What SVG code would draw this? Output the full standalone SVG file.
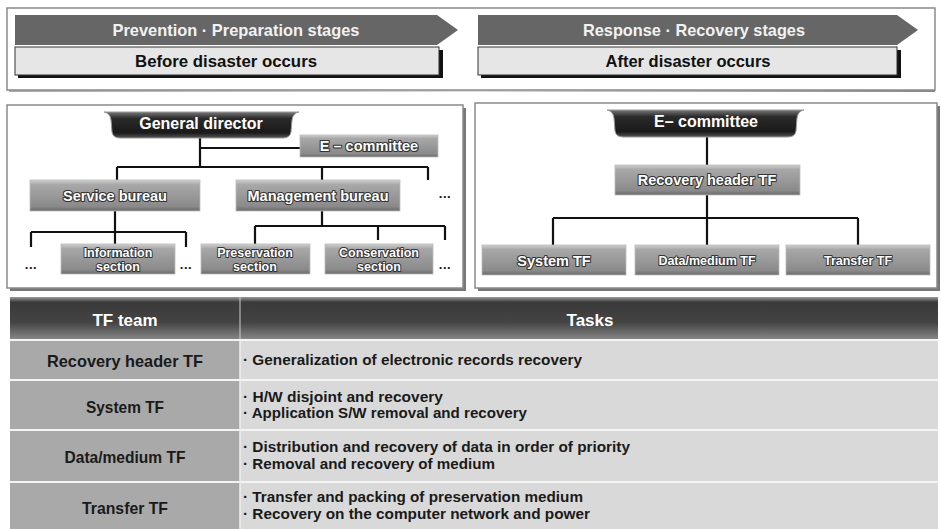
<svg xmlns="http://www.w3.org/2000/svg" width="941" height="529" viewBox="0 0 941 529">
<defs>
<linearGradient id="gBox" x1="0" y1="0" x2="0" y2="1">
<stop offset="0" stop-color="#d0d0d0"/><stop offset="0.15" stop-color="#a8a8a8"/><stop offset="0.85" stop-color="#8a8a8a"/><stop offset="1" stop-color="#6a6a6a"/>
</linearGradient>
<linearGradient id="gDark" x1="0" y1="0" x2="0" y2="1">
<stop offset="0" stop-color="#777"/><stop offset="0.25" stop-color="#2a2a2a"/><stop offset="0.8" stop-color="#1a1a1a"/><stop offset="1" stop-color="#555"/>
</linearGradient>
<linearGradient id="gHead" x1="0" y1="0" x2="0" y2="1">
<stop offset="0" stop-color="#9a9a9a"/><stop offset="0.12" stop-color="#3a3a3a"/><stop offset="0.6" stop-color="#444"/><stop offset="1" stop-color="#8a8a8a"/>
</linearGradient>
<linearGradient id="gShadow" x1="0" y1="0" x2="1" y2="0">
<stop offset="0" stop-color="#aaa"/><stop offset="0.5" stop-color="#ddd"/><stop offset="1" stop-color="#888"/>
</linearGradient>
</defs>
<style>
text{font-family:"Liberation Sans",Arial,sans-serif}
.panel{fill:#fff;stroke:#8a8a8a;stroke-width:1.5}
.banner{fill:#666}
.btxt{fill:#f2f2f2;font-size:17px;font-weight:bold;text-anchor:middle}
.sub{fill:#e6e6e6;stroke:#333;stroke-width:1}
.stxt{fill:#111;font-size:16px;font-weight:bold;text-anchor:middle}
.box{fill:url(#gBox);stroke:#bbb;stroke-width:0.8}
.dark{fill:url(#gDark);stroke:#999;stroke-width:1}
.ntxt{fill:#fff;font-size:14.5px;font-weight:bold;text-anchor:middle;stroke:#333;stroke-width:2.2;paint-order:stroke;stroke-linejoin:round}
.ntxt2{fill:#fff;font-size:12.5px;font-weight:bold;text-anchor:middle;stroke:#333;stroke-width:2;paint-order:stroke;stroke-linejoin:round}
.dtxt{fill:#fff;font-size:16px;font-weight:bold;text-anchor:middle}
.dots{fill:#111;font-size:13px;font-weight:bold;text-anchor:middle;letter-spacing:0.5px}
.conn{fill:none;stroke:#111;stroke-width:2.2}
.colL{fill:#a9a9a9}
.colR{fill:#d9d9d9}
.sep{stroke:#f4f4f4;stroke-width:2}
.htxt{fill:#fff;font-size:17px;font-weight:bold;text-anchor:middle}
.ltxt{fill:#1a1a1a;font-size:16.5px;font-weight:bold;text-anchor:middle}
.rtxt{fill:#1a1a1a;font-size:15.5px;font-weight:bold}
</style>

<g id="top-panel">
<rect x="9" y="88" width="926" height="4" fill="url(#gShadow)"/>
<rect class="panel" x="7" y="8" width="928" height="82"/>
</g>
<g id="stage-prevention">
<polygon class="banner" points="15,15 437,15 458,30 437,45 15,45"/>
<text class="btxt" x="236" y="36" textLength="247" lengthAdjust="spacingAndGlyphs">Prevention · Preparation stages</text>
</g>
<g id="before-disaster">
<rect x="18" y="50" width="425" height="28" fill="#111"/>
<rect class="sub" x="15" y="47" width="424" height="28"/>
<text class="stxt" x="226" y="67" textLength="182" lengthAdjust="spacingAndGlyphs">Before disaster occurs</text>
</g>
<g id="stage-response">
<polygon class="banner" points="478,15 897,15 918,30 897,45 478,45"/>
<text class="btxt" x="694" y="36" textLength="222" lengthAdjust="spacingAndGlyphs">Response · Recovery stages</text>
</g>
<g id="after-disaster">
<rect x="481" y="50" width="420" height="28" fill="#111"/>
<rect class="sub" x="478" y="47" width="419" height="28"/>
<text class="stxt" x="688" y="67" textLength="165" lengthAdjust="spacingAndGlyphs">After disaster occurs</text>
</g>

<g id="panel-before">
<rect x="10" y="108" width="456" height="183" fill="#777"/>
<rect class="panel" x="7" y="105" width="456" height="183"/>
</g>
<g id="panel-after">
<rect x="478" y="106" width="462" height="185" fill="#777"/>
<rect class="panel" x="475" y="103" width="462" height="185"/>
</g>

<g id="connectors">
<path class="conn" d="M200,138 V167 M200,148 H300 M117,167 H428 M117,167 V180 M322,167 V180 M428,167 V180"/>
<path class="conn" d="M115,211 V232 M31,232 H186 M31,232 V247 M115,232 V244 M186,232 V247"/>
<path class="conn" d="M322,211 V226 M255,226 H445 M255,226 V244 M378,226 V240 M445,226 V240"/>
<path class="conn" d="M707,137 V165 M707,195 V245 M553,218 H858 M553,218 V245 M858,218 V245"/>
</g>

<g id="general-director">
<path class="dark" d="M104,112 H299 Q293,113 292,120 L291,132 Q290,138 283,138 H120 Q113,138 112,132 L111,120 Q110,113 104,112 Z"/>
<text class="dtxt" x="201" y="129">General director</text>
</g>
<g id="e-committee-left">
<rect class="box" x="300" y="135" width="138" height="22"/>
<text class="ntxt" x="369" y="151">E – committee</text>
</g>
<g id="service-bureau">
<rect class="box" x="30" y="180" width="170" height="31"/>
<text class="ntxt" x="115" y="201">Service bureau</text>
</g>
<g id="management-bureau">
<rect class="box" x="236" y="180" width="164" height="31"/>
<text class="ntxt" x="318" y="201">Management bureau</text>
</g>
<text class="dots" x="445" y="198">...</text>
<g id="information-section">
<rect class="box" x="61" y="244" width="114" height="30"/>
<text class="ntxt2" x="118" y="257">Information</text>
<text class="ntxt2" x="118" y="271">section</text>
</g>
<text class="dots" x="31" y="269">...</text>
<text class="dots" x="186" y="269">...</text>
<g id="preservation-section">
<rect class="box" x="201" y="244" width="109" height="30"/>
<text class="ntxt2" x="255" y="257">Preservation</text>
<text class="ntxt2" x="255" y="271">section</text>
</g>
<g id="conservation-section">
<rect class="box" x="325" y="244" width="108" height="30"/>
<text class="ntxt2" x="379" y="257">Conservation</text>
<text class="ntxt2" x="379" y="271">section</text>
</g>
<text class="dots" x="445" y="269">...</text>

<g id="e-committee-right">
<path class="dark" d="M607,110 H804 Q798,111 797,118 L796,131 Q795,137 788,137 H623 Q616,137 615,131 L614,118 Q613,111 607,110 Z"/>
<text class="dtxt" x="706" y="127">E– committee</text>
</g>
<g id="recovery-header-tf">
<rect class="box" x="615" y="165" width="185" height="30"/>
<text class="ntxt" x="707" y="185">Recovery header TF</text>
</g>
<g id="system-tf">
<rect class="box" x="482" y="245" width="144" height="30"/>
<text class="ntxt" x="554" y="266">System TF</text>
</g>
<g id="data-medium-tf">
<rect class="box" x="635" y="245" width="144" height="30"/>
<text class="ntxt2" x="707" y="265">Data/medium TF</text>
</g>
<g id="transfer-tf">
<rect class="box" x="786" y="245" width="144" height="30"/>
<text class="ntxt2" x="858" y="265">Transfer TF</text>
</g>

<g id="table">
<rect x="10" y="297" width="928" height="43" fill="url(#gHead)"/>
<line x1="240" y1="297" x2="240" y2="340" stroke="#ccc" stroke-width="1"/>
<text class="htxt" x="125" y="326">TF team</text>
<text class="htxt" x="590" y="326">Tasks</text>
<rect class="colL" x="10" y="340" width="230" height="189"/>
<rect class="colR" x="240" y="340" width="698" height="189"/>
<line class="sep" x1="10" y1="340" x2="938" y2="340"/>
<line class="sep" x1="10" y1="380" x2="938" y2="380"/>
<line class="sep" x1="10" y1="430" x2="938" y2="430"/>
<line class="sep" x1="10" y1="482" x2="938" y2="482"/>
<line x1="240" y1="340" x2="240" y2="529" stroke="#eee" stroke-width="1.5"/>
<text class="ltxt" x="125" y="367" textLength="156" lengthAdjust="spacingAndGlyphs">Recovery header  TF</text>
<text class="ltxt" x="125" y="413" textLength="78" lengthAdjust="spacingAndGlyphs">System TF</text>
<text class="ltxt" x="125" y="463" textLength="121" lengthAdjust="spacingAndGlyphs">Data/medium TF</text>
<text class="ltxt" x="125" y="514" textLength="86" lengthAdjust="spacingAndGlyphs">Transfer TF</text>
<text class="rtxt" x="243" y="365" textLength="339" lengthAdjust="spacingAndGlyphs">· Generalization of electronic records recovery</text>
<text class="rtxt" x="243" y="402" textLength="200" lengthAdjust="spacingAndGlyphs">· H/W disjoint and  recovery</text>
<text class="rtxt" x="243" y="418" textLength="284" lengthAdjust="spacingAndGlyphs">· Application S/W removal and recovery</text>
<text class="rtxt" x="243" y="452" textLength="387" lengthAdjust="spacingAndGlyphs">· Distribution and recovery of data in order of priority</text>
<text class="rtxt" x="243" y="469" textLength="252" lengthAdjust="spacingAndGlyphs">· Removal and recovery of medium</text>
<text class="rtxt" x="243" y="502" textLength="340" lengthAdjust="spacingAndGlyphs">· Transfer and packing of preservation medium</text>
<text class="rtxt" x="243" y="519" textLength="347" lengthAdjust="spacingAndGlyphs">· Recovery on the computer network and power</text>
</g>
</svg>
